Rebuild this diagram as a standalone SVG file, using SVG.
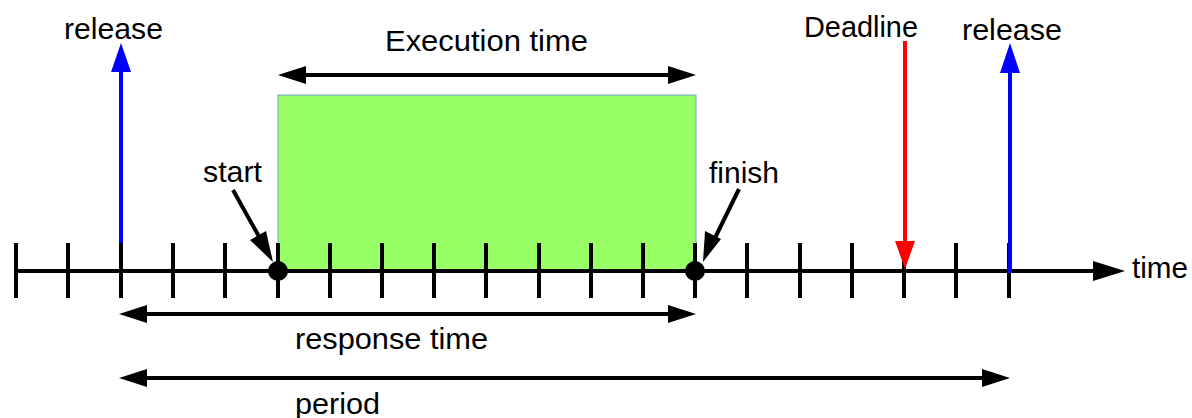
<svg xmlns="http://www.w3.org/2000/svg" width="1192" height="418" viewBox="0 0 1192 418">
  <style>
    .lbl { font-family: "Liberation Sans", Arial, sans-serif; font-size: 30px; fill: #000; }
    .tick { stroke: #000; stroke-width: 4; }
    .dim { stroke: #000; stroke-width: 4; fill: none; }
    .head { fill: #000; }
  </style>

  <!-- job execution block -->
  <g id="execution-block">
    <rect x="278" y="95" width="418" height="175" fill="#99ff66" stroke="#729fcf" stroke-width="1"/>
  </g>

  <!-- time axis with ticks -->
  <g id="time-axis">
    <line class="dim" x1="16" y1="271" x2="1098" y2="271"/>
    <polygon class="head" points="1093,261 1125,271 1093,281"/>
    <g class="tick">
      <line x1="16" y1="243" x2="16" y2="298"/>
      <line x1="68" y1="243" x2="68" y2="298"/>
      <line x1="121" y1="243" x2="121" y2="298"/>
      <line x1="173" y1="243" x2="173" y2="298"/>
      <line x1="225" y1="243" x2="225" y2="298"/>
      <line x1="278" y1="243" x2="278" y2="298"/>
      <line x1="330" y1="243" x2="330" y2="298"/>
      <line x1="382" y1="243" x2="382" y2="298"/>
      <line x1="434" y1="243" x2="434" y2="298"/>
      <line x1="486" y1="243" x2="486" y2="298"/>
      <line x1="539" y1="243" x2="539" y2="298"/>
      <line x1="591" y1="243" x2="591" y2="298"/>
      <line x1="643" y1="243" x2="643" y2="298"/>
      <line x1="695" y1="243" x2="695" y2="298"/>
      <line x1="747" y1="243" x2="747" y2="298"/>
      <line x1="800" y1="243" x2="800" y2="298"/>
      <line x1="852" y1="243" x2="852" y2="298"/>
      <line x1="904" y1="243" x2="904" y2="298"/>
      <line x1="956" y1="243" x2="956" y2="298"/>
      <line x1="1009" y1="243" x2="1009" y2="298"/>
    </g>
    <text class="lbl" x="1132" y="278" textLength="56" lengthAdjust="spacingAndGlyphs">time</text>
  </g>

  <!-- first release -->
  <g id="release-1">
    <line x1="121" y1="243" x2="121" y2="70" stroke="#0000ff" stroke-width="4"/>
    <polygon points="111,72 121,43 131,72" fill="#0000ff"/>
    <text class="lbl" x="64" y="39" textLength="99" lengthAdjust="spacingAndGlyphs">release</text>
  </g>

  <!-- next release -->
  <g id="release-2">
    <line x1="1010" y1="273" x2="1010" y2="70" stroke="#0000ff" stroke-width="4"/>
    <polygon points="1000,73 1010,43 1020,73" fill="#0000ff"/>
    <text class="lbl" x="962" y="40" textLength="100" lengthAdjust="spacingAndGlyphs">release</text>
  </g>

  <!-- deadline -->
  <g id="deadline">
    <line x1="905" y1="41" x2="905" y2="244" stroke="#ff0000" stroke-width="4"/>
    <polygon points="895,241 905,269 915,241" fill="#ff0000"/>
    <text class="lbl" x="804" y="37" textLength="114" lengthAdjust="spacingAndGlyphs">Deadline</text>
  </g>

  <!-- start point -->
  <g id="start">
    <circle cx="278" cy="271" r="10" fill="#000"/>
    <text class="lbl" x="203" y="182" textLength="59" lengthAdjust="spacingAndGlyphs">start</text>
  </g>

  <!-- finish point -->
  <g id="finish">
    <circle cx="695" cy="271" r="10" fill="#000"/>
    <text class="lbl" x="709" y="183" textLength="70" lengthAdjust="spacingAndGlyphs">finish</text>
  </g>

  <!-- connectors and dimension arrows -->
  <g id="connectors">
    <!-- pointer to start -->
    <line class="dim" x1="233" y1="190" x2="262" y2="242"/>
    <polygon class="head" points="273,262 250,240 266,231"/>
    <!-- pointer to finish -->
    <line class="dim" x1="739" y1="189" x2="713" y2="242"/>
    <polygon class="head" points="703,262 705,231 721,239"/>

    <!-- execution time -->
    <line class="dim" x1="300" y1="75" x2="673" y2="75"/>
    <polygon class="head" points="278,75 306,66 306,84"/>
    <polygon class="head" points="696,75 668,66 668,84"/>
    <text class="lbl" x="385" y="51" textLength="203" lengthAdjust="spacingAndGlyphs">Execution time</text>

    <!-- response time -->
    <line class="dim" x1="140" y1="314" x2="675" y2="314"/>
    <polygon class="head" points="119,314 147,305 147,323"/>
    <polygon class="head" points="696,314 668,305 668,323"/>
    <text class="lbl" x="295" y="349" textLength="193" lengthAdjust="spacingAndGlyphs">response time</text>

    <!-- period -->
    <line class="dim" x1="140" y1="378" x2="990" y2="378"/>
    <polygon class="head" points="119,378 147,369 147,387"/>
    <polygon class="head" points="1010,378 982,369 982,387"/>
    <text class="lbl" x="295" y="414" textLength="85" lengthAdjust="spacingAndGlyphs">period</text>
  </g>
</svg>
